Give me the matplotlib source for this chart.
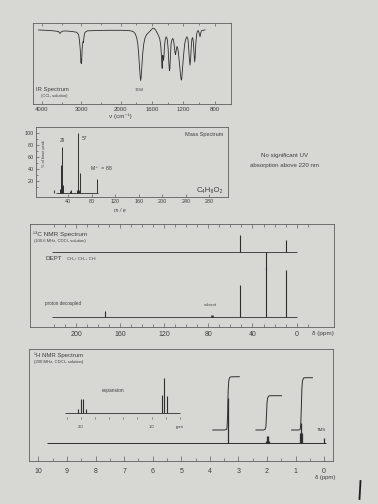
import matplotlib
matplotlib.use('Agg')
import matplotlib.pyplot as plt
import numpy as np
from matplotlib.lines import Line2D

W, H = 378, 504
PAPER = '#d7d7d4'
INK = '#2e2e2e'
FRAME = '#5e5e5e'
TEXT = '#3e3e3e'

plt.rcParams['font.family'] = ['Liberation Sans', 'DejaVu Sans']

# ---------------- IR spectrum (wavenumber, %T) ----------------
ir_wavenumber = [4090, 3900, 3700, 3580, 3545, 3520, 3480, 3400, 3250, 3120,
                 3070, 3045, 3025, 3012, 3005, 2999, 2994, 2988, 2980, 2972,
                 2964, 2956, 2948, 2940, 2928, 2910, 2880, 2840, 2600, 2300,
                 2000, 1880, 1840, 1815, 1795, 1780, 1768, 1758, 1750, 1744,
                 1738, 1730, 1718, 1705, 1690, 1670, 1640, 1610, 1590, 1575,
                 1555, 1535, 1515, 1500, 1488, 1480, 1474, 1470, 1466, 1462,
                 1458, 1452, 1447, 1440, 1430, 1418, 1405, 1394, 1386, 1378,
                 1372, 1364, 1356, 1346, 1336, 1326, 1316, 1306, 1299, 1292,
                 1282, 1272, 1262, 1250, 1238, 1230, 1225, 1220, 1210, 1196,
                 1182, 1170, 1155, 1142, 1132, 1124, 1116, 1108, 1100, 1092,
                 1082, 1072, 1064, 1056, 1050, 1042, 1032, 1020, 1008, 998,
                 988, 980, 970, 950, 925]
ir_transmittance = [91.4, 91.0, 90.3, 89.5, 87.0, 88.5, 90.0, 90.2, 89.6, 88.6,
                    86.0, 78.0, 66.0, 55.0, 50.5, 55.0, 50.0, 56.0, 66.0, 72.0,
                    75.0, 77.0, 76.0, 79.0, 84.0, 88.0, 89.5, 90.3, 90.8, 91.0,
                    91.0, 90.5, 89.5, 87.0, 82.0, 74.0, 60.0, 45.0, 34.0, 29.0,
                    33.0, 45.0, 62.0, 74.0, 81.0, 85.5, 88.5, 91.5, 93.5, 93.5,
                    91.5, 88.0, 84.0, 80.0, 72.0, 60.0, 48.0, 44.0, 50.0, 60.0,
                    58.0, 54.0, 60.0, 72.0, 80.0, 83.0, 80.0, 68.0, 52.0, 41.0,
                    44.0, 60.0, 75.0, 79.0, 81.0, 79.0, 72.0, 63.0, 61.0, 66.0,
                    71.0, 69.0, 62.0, 50.0, 38.0, 31.0, 29.5, 32.0, 45.0, 62.0,
                    75.0, 80.0, 83.0, 80.0, 68.0, 56.0, 48.0, 55.0, 70.0, 80.0,
                    82.0, 76.0, 62.0, 52.0, 58.0, 74.0, 86.0, 90.0, 90.5, 87.0,
                    83.0, 87.0, 90.5, 91.0, 91.4]
ir_ticks = [4000, 3000, 2000, 1600, 1200, 800]
ir_minor = [3500, 2500, 1800, 1400, 1000]

# ---------------- Mass spectrum ----------------
ms_mz = [15, 26, 27, 28, 29, 30, 31, 42, 45, 55, 56, 57, 58, 59, 88]
ms_abundance = [4, 6, 47, 15, 77, 8, 12, 3, 5, 4, 3, 100, 5, 33, 23]
ms_xticks = [40, 80, 120, 160, 200, 240, 280]
ms_yticks = [20, 40, 60, 80, 100]

# ---------------- 13C NMR ----------------
c13_shift = [174.0, 77.0, 51.5, 27.5, 9.2]
c13_height = [6.4, 2.2, 31.4, 49.0, 46.0]
dept_shift = [51.5, 27.5, 9.2]
dept_height = [17.0, -17.5, 12.0]
c13_ticks = [200, 160, 120, 80, 40, 0]

# ---------------- 1H NMR ----------------
h1_ppm = [3.37, 2.036, 1.999, 1.961, 1.924, 0.838, 0.800, 0.762, 0.0]
h1_height = [45, 2.5, 7, 7, 2.5, 10, 20, 10, 5]
int_a_ppm = [3.90, 3.50, 3.42, 3.40, 3.38, 3.36, 3.34, 3.31, 3.26, 2.97]
int_a_val = [31.0, 31.0, 31.5, 33.0, 45.0, 70.0, 80.0, 83.3, 84.2, 84.3]
int_b_ppm = [2.39, 2.12, 2.07, 2.04, 2.02, 2.00, 1.98, 1.94, 1.88, 1.49]
int_b_val = [31.0, 31.0, 31.5, 34.0, 45.0, 58.0, 63.0, 65.0, 65.3, 65.3]
int_c_ppm = [1.14, 0.88, 0.84, 0.82, 0.80, 0.78, 0.76, 0.72, 0.66, 0.41]
int_c_val = [31.0, 31.0, 31.8, 36.0, 52.0, 72.0, 80.0, 83.0, 83.3, 83.3]
h1_ticks = [10, 9, 8, 7, 6, 5, 4, 3, 2, 1, 0]
exp_ppm = [2.039, 2.004, 1.967, 1.929, 0.857, 0.820, 0.777]
exp_height = [4.5, 14, 14, 4.5, 18, 35, 17]
exp_ticks = [2.2, 2.0, 1.8, 1.6, 1.4, 1.2, 1.0, 0.8, 0.6]
exp_labels = ['', '2.0', '', '', '', '', '1.0', '', 'ppm']

fig = plt.figure(figsize=(W / 100, H / 100), dpi=100)
fig.patch.set_facecolor(PAPER)


def box(x0, y0, x1, y1):
    a = fig.add_axes([x0 / W, 1 - y1 / H, (x1 - x0) / W, (y1 - y0) / H])
    a.set_facecolor('none')
    for s in a.spines.values():
        s.set_color(FRAME)
        s.set_linewidth(0.6)
    return a


def note(x, y, s, size, ha='left', **kw):
    fig.text(x / W, 1 - y / H, s, fontsize=size, ha=ha, va='center', color=TEXT, **kw)


# ---- IR: the scale below 2000 cm-1 is stretched twofold ----
def ir_fwd(v):
    v = np.asarray(v, float)
    return np.where(v >= 2000, v, 2 * v - 2000)


def ir_inv(u):
    u = np.asarray(u, float)
    return np.where(u >= 2000, u, (u + 2000) / 2)


ax = box(33, 23, 230.5, 104)
ax.set_xscale('function', functions=(ir_fwd, ir_inv))
ax.plot(ir_wavenumber, ir_transmittance, color=INK, lw=0.6)
ax.set_xlim(4230, 600)
ax.set_ylim(0, 100)
ax.set_xticks(ir_ticks)
ax.set_xticklabels([str(t) for t in ir_ticks])
ax.set_xticks(ir_minor, minor=True)
ax.set_xticklabels([], minor=True)
ax.set_yticks([])
ax.tick_params(axis='x', which='both', direction='in', top=True, labelsize=4.3,
               pad=2.5, width=0.5, color=FRAME, labelcolor=TEXT)
ax.tick_params(axis='x', which='major', length=2.5)
ax.tick_params(axis='x', which='minor', length=1.5)
note(36, 89.5, 'IR Spectrum', 4.2)
note(41, 95.5, '(CCl₄ solution)', 3.0)
note(139, 90, '1744', 3.0, ha='center')
note(120, 116.5, 'ν (cm⁻¹)', 4.5, ha='center')

# ---- Mass spectrum ----
ax = box(36, 127.3, 228.3, 197.3)
ax.vlines(ms_mz, 0, ms_abundance, color=INK, lw=0.7)
ax.hlines(0, 19, 91, color=INK, lw=0.6)
ax.set_xlim(-15, 312)
ax.set_ylim(-8, 109.6)
ax.set_xticks(ms_xticks)
ax.set_yticks(ms_yticks)
ax.set_yticks(range(10, 101, 10), minor=True)
ax.tick_params(which='both', direction='in', labelsize=3.9, pad=1.5, width=0.5,
               color=FRAME, labelcolor=TEXT)
ax.tick_params(which='major', length=2)
ax.tick_params(which='minor', length=1.2)
note(223, 135, 'Mass Spectrum', 4.0, ha='right')
note(62.5, 140, '29', 3.4, ha='center')
note(84, 138.3, '57', 3.4, ha='center')
note(91, 168.3, 'M⁺˙ = 88', 3.8)
note(210, 190.7, 'C₄H₈O₂', 5.5, ha='center')
note(44, 154, '% of base peak', 2.8, ha='center', rotation=90)
note(120, 210, 'm / e', 3.8, ha='center', style='italic')

# ---- UV note ----
note(285, 155, 'No significant UV', 4.4, ha='center')
note(285, 166, 'absorption above 220 nm', 4.4, ha='center')

# ---- 13C NMR ----
C_BASE, DEPT_BASE = 9.2, 72.4
ax = box(30, 224, 334, 326.7)
ax.set_xlim(242, -34)
ax.set_ylim(0, 100)
ax.hlines([C_BASE, DEPT_BASE], 222, -0.4, color=INK, lw=0.6)
ax.vlines(c13_shift, C_BASE, C_BASE + np.array(c13_height), color=INK,
          lw=[0.8, 1.8, 0.8, 0.8, 0.8])
ax.vlines(dept_shift, DEPT_BASE, DEPT_BASE + np.array(dept_height), color=INK, lw=0.8)
ax.set_xticks(c13_ticks)
ax.set_xticks(range(-10, 230, 10), minor=True)
ax.set_yticks([])
ax.tick_params(axis='x', which='both', direction='in', top=True, labelsize=5.0,
               pad=3, width=0.5, color=FRAME, labelcolor=TEXT)
ax.tick_params(axis='x', which='major', length=3)
ax.tick_params(axis='x', which='minor', length=2)
note(33, 234, '¹³C NMR Spectrum', 4.6)
note(34, 241, '(100.6 MHz, CDCl₃ solution)', 3.0)
note(45, 259, 'DEPT', 4.5)
note(67, 259, 'CH₃↑ CH₂↓ CH↑', 3.0)
note(45, 304, 'proton decoupled', 3.3)
note(210, 305, 'solvent', 3.0, ha='center')
note(323, 333.3, 'δ (ppm)', 4.6, ha='center')

# ---- 1H NMR ----
H_BASE = 17.7
ax = box(29.3, 349, 333.3, 461)
ax.set_xlim(10.32, -0.32)
ax.set_ylim(0, 112)
ax.hlines(H_BASE, 9.7, -0.05, color=INK, lw=0.7)
ax.vlines(h1_ppm, H_BASE, H_BASE + np.array(h1_height), color=INK, lw=0.9)
for xs, ys in [(int_a_ppm, int_a_val), (int_b_ppm, int_b_val), (int_c_ppm, int_c_val)]:
    ax.plot(xs, ys, color=INK, lw=0.7)
ax.set_xticks(h1_ticks)
ax.set_xticks(np.arange(0.5, 10, 1.0), minor=True)
ax.set_yticks([])
ax.tick_params(axis='x', which='both', direction='in', labelsize=5.0, pad=5,
               width=0.5, color=FRAME, labelcolor=TEXT)
ax.tick_params(axis='x', which='major', length=3.5)
ax.tick_params(axis='x', which='minor', length=2)
note(34, 355.7, '¹H NMR Spectrum', 4.3)
note(34, 362.5, '(200 MHz, CDCl₃ solution)', 3.1)
note(321.7, 430, 'TMS', 3.2, ha='center')
note(325, 477, 'δ (ppm)', 4.3, ha='center')

# expansion inset
INS_BASE = 3.7
ins = box(63, 375, 182, 417)
for s in ins.spines.values():
    s.set_visible(False)
ins.set_xlim(2.257, 0.567)
ins.set_ylim(0, 42)
ins.hlines(INS_BASE, 2.23, 0.6, color=INK, lw=0.6)
ins.vlines(exp_ppm, INS_BASE, INS_BASE + np.array(exp_height), color=INK, lw=0.8)
ins.set_xticks(exp_ticks)
ins.set_xticklabels(exp_labels)
ins.set_yticks([])
ins.tick_params(axis='x', direction='out', length=1.5, width=0.5, labelsize=3.0,
                pad=4, color=FRAME, labelcolor=TEXT)
note(113, 390.5, 'expansion', 3.5, ha='center')

# pen mark at the lower right of the sheet
fig.add_artist(Line2D([360.5 / W, 359.5 / W], [1 - 481 / H, 1 - 499 / H],
                      color='#1e1e1e', lw=1.3))

fig.savefig('out.png', dpi=100, facecolor=PAPER)
